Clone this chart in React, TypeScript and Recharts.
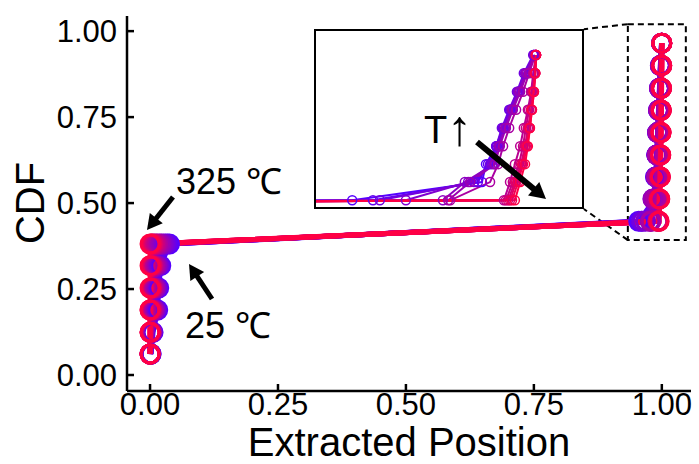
import React from "react"
import { LineChart, Line, XAxis, YAxis, ReferenceArea, ReferenceLine } from "recharts"

// cumulative fraction shared by every temperature
const CDF = [0.061, 0.124, 0.189, 0.253, 0.318, 0.381, 0.447, 0.512, 0.576, 0.64, 0.705, 0.77, 0.834, 0.9, 0.965]

const TEMPS = [25, 50, 75, 100, 125, 150, 175, 200, 225, 250, 275, 300, 325]

// extracted position per CDF step, one array per temperature
const POS_25 = [0.002, 0.006, 0.015, 0.017, 0.021, 0.038, 0.9548, 0.9867, 0.9877, 0.9902, 0.9919, 0.9936, 0.9956, 0.9975, 0.9995]
const POS_50 = [0.002, 0.005, 0.013, 0.015, 0.019, 0.034, 0.9599, 0.9857, 0.9882, 0.9904, 0.9919, 0.9939, 0.9958, 0.9975, 0.9995]
const POS_75 = [0.001, 0.004, 0.011, 0.013, 0.017, 0.03, 0.9616, 0.9848, 0.9887, 0.9902, 0.9916, 0.9934, 0.9953, 0.997, 0.9993]
const POS_100 = [0.001, 0.004, 0.01, 0.012, 0.015, 0.026, 0.968, 0.9833, 0.9892, 0.9907, 0.9921, 0.9939, 0.9956, 0.9973, 0.9995]
const POS_125 = [0.001, 0.003, 0.008, 0.01, 0.013, 0.022, 0.9771, 0.9825, 0.9897, 0.9909, 0.9924, 0.9941, 0.9958, 0.9975, 0.9998]
const POS_150 = [0.001, 0.003, 0.007, 0.009, 0.011, 0.019, 0.9784, 0.9838, 0.9899, 0.9911, 0.9926, 0.9943, 0.9961, 0.9978, 0.9998]
const POS_175 = [0, 0.002, 0.006, 0.007, 0.009, 0.015, 0.9789, 0.9887, 0.9907, 0.9919, 0.9934, 0.9951, 0.9968, 0.9983, 0.9998]
const POS_200 = [0, 0.002, 0.004, 0.005, 0.007, 0.012, 0.9921, 0.9936, 0.9948, 0.9961, 0.997, 0.998, 0.9988, 0.9993, 1.0]
const POS_225 = [0, 0.001, 0.003, 0.004, 0.005, 0.009, 0.9926, 0.9943, 0.9958, 0.9968, 0.9975, 0.9983, 0.999, 0.9995, 1.0]
const POS_250 = [0, 0.001, 0.002, 0.003, 0.004, 0.006, 0.9931, 0.9948, 0.9963, 0.9973, 0.998, 0.9988, 0.9993, 0.9998, 1.0]
const POS_275 = [0, 0, 0.001, 0.002, 0.003, 0.004, 0.9936, 0.9951, 0.9966, 0.9975, 0.9983, 0.9988, 0.9993, 0.9998, 1.0]
const POS_300 = [0, 0, 0, 0.001, 0.001, 0.002, 0.9941, 0.9956, 0.9968, 0.9978, 0.9985, 0.999, 0.9995, 0.9998, 1.0]
const POS_325 = [0, 0, 0, 0, 0, 0, 0.9948, 0.9961, 0.9973, 0.998, 0.9985, 0.999, 0.9995, 0.9998, 1.0]

const POSITIONS = [POS_25, POS_50, POS_75, POS_100, POS_125, POS_150, POS_175, POS_200, POS_225, POS_250, POS_275, POS_300, POS_325]

const COLORS = [
  "#5500ff", "#6300ef", "#7100e0", "#8000d0", "#8e00c1", "#9c00b1", "#aa00a2",
  "#b80092", "#c60082", "#d50073", "#e30063", "#f10054", "#ff0044",
]

const TICKS = [0, 0.25, 0.5, 0.75, 1]

const series = POSITIONS.map((xs, i) => ({
  temp: TEMPS[i],
  color: COLORS[i],
  points: xs.map((x, j) => ({ x, y: CDF[j] })),
}))

const FONT = "'Liberation Sans', Arial, sans-serif"
const X_DOMAIN = [-0.045, 1.057]
const Y_DOMAIN = [-0.0465, 1.044]

function Arrow({ x1, y1, x2, y2, w, head }: any) {
  const len = Math.hypot(x2 - x1, y2 - y1)
  const ux = (x2 - x1) / len, uy = (y2 - y1) / len
  const bx = x2 - ux * head, by = y2 - uy * head
  const px = -uy * head * 0.55, py = ux * head * 0.55
  return (
    <g>
      <line x1={x1} y1={y1} x2={bx + ux * 2} y2={by + uy * 2} stroke="#000" strokeWidth={w} />
      <polygon points={`${x2},${y2} ${bx + px},${by + py} ${bx - px},${by - py}`} fill="#000" />
    </g>
  )
}

export default function App() {
  const tick = { fill: "#000", fontSize: 31, fontFamily: FONT }
  return (
    <div style={{ position: "absolute", left: 0, top: 0, width: 699, height: 464, background: "#fff", fontFamily: FONT }}>
      <LineChart width={699} height={464} margin={{ top: 16, right: 8, bottom: 13, left: 67 }}>
        <XAxis type="number" dataKey="x" domain={X_DOMAIN} allowDataOverflow ticks={TICKS}
               tickFormatter={v => v.toFixed(2)} height={60} tickSize={-7} tickMargin={9}
               tick={tick} stroke="#000" strokeWidth={2.5} />
        <XAxis xAxisId="top" orientation="top" type="number" domain={X_DOMAIN} allowDataOverflow
               height={0} tick={false} tickLine={false} stroke="#000" strokeWidth={2.5} />
        <YAxis type="number" domain={Y_DOMAIN} allowDataOverflow ticks={TICKS}
               tickFormatter={v => v.toFixed(2)} width={60} tickSize={-7} tickMargin={17}
               tick={tick} stroke="#000" strokeWidth={2.5} />
        <YAxis yAxisId="right" orientation="right" type="number" domain={Y_DOMAIN} allowDataOverflow
               width={0} tick={false} tickLine={false} stroke="#000" strokeWidth={2.5} />
        <ReferenceArea x1={0.9336} x2={1.0469} y1={0.3924} y2={1.0203} fill="none" fillOpacity={0}
                       stroke="#000" strokeWidth={2} strokeDasharray="6 4" />
        <ReferenceLine segment={[{ x: 0.9336, y: 1.0203 }, { x: 0.8477, y: 1.0058 }]}
                       stroke="#000" strokeWidth={2} strokeDasharray="6 4" />
        <ReferenceLine segment={[{ x: 0.9336, y: 0.3924 }, { x: 0.8477, y: 0.4826 }]}
                       stroke="#000" strokeWidth={2} strokeDasharray="6 4" />
        {series.map(s => (
          <Line key={s.temp} data={s.points} dataKey="y" type="linear" stroke={s.color} strokeWidth={5}
                dot={{ r: 9, stroke: s.color, strokeWidth: 3, fill: "none" }} activeDot={false}
                isAnimationActive={false} />
        ))}
      </LineChart>

      {/* zoomed inset around x = 1 */}
      <div style={{ position: "absolute", left: 314, top: 29, width: 270, height: 180, background: "#fff" }}>
        <LineChart width={270} height={180} margin={{ top: 0, right: 0, bottom: 0, left: 0 }}>
          <XAxis type="number" dataKey="x" domain={[0.9454, 1.0118]} allowDataOverflow hide />
          <YAxis type="number" domain={[0.416, 1.058]} allowDataOverflow hide />
          {series.map(s => (
            <Line key={s.temp} data={s.points} dataKey="y" type="linear" stroke={s.color} strokeWidth={2}
                  dot={{ r: 4.5, stroke: s.color, strokeWidth: 1.5, fill: "none" }} activeDot={false}
                  isAnimationActive={false} />
          ))}
        </LineChart>
        <div style={{ position: "absolute", inset: 0, border: "2.5px solid #000", boxSizing: "border-box" }} />
      </div>

      <svg width={699} height={464} style={{ position: "absolute", left: 0, top: 0, pointerEvents: "none" }}
           fontFamily={FONT}>
        <text x={409} y={456} textAnchor="middle" fontSize={40}>Extracted Position</text>
        <text transform="translate(44,203) rotate(-90)" textAnchor="middle" fontSize={40}>CDF</text>
        <text x={176} y={194} fontSize={36}>325 ℃</text>
        <text x={185} y={338} fontSize={36}>25 ℃</text>
        <text x={424} y={143} fontSize={38}>T<tspan fontSize={50} dy={2}>↑</tspan></text>
        <Arrow x1={173} y1={197} x2={147} y2={230} w={5} head={15} />
        <Arrow x1={212} y1={299} x2={189} y2={264} w={5} head={15} />
        <Arrow x1={477} y1={142} x2={546} y2={199} w={6} head={16} />
      </svg>
    </div>
  )
}
